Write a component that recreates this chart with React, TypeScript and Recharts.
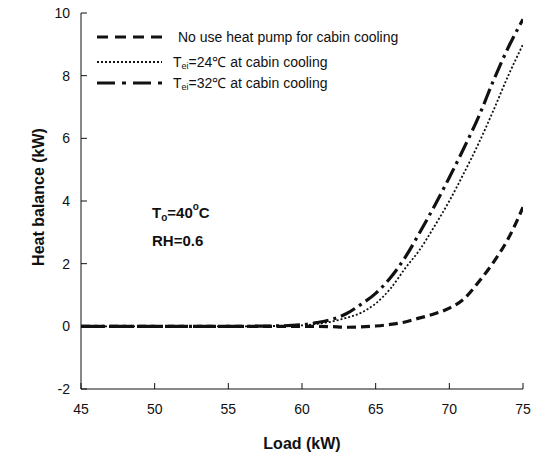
import React from 'react';
import { LineChart, Line, XAxis, YAxis } from 'recharts';

if (typeof document !== 'undefined') {
  document.body.style.margin = '0';
  document.body.style.overflow = 'hidden';
}

const loads = [45, 50, 55, 58, 60, 61, 62, 63, 64, 65, 66, 67, 68, 69, 70, 71, 72, 73, 74, 75];
const noHeatPump = [0, 0, 0, 0, 0, 0, -0.01, -0.03, -0.02, 0.01, 0.06, 0.14, 0.27, 0.4, 0.58, 0.88, 1.42, 2.05, 2.8, 3.8];
const tei24 = [0, 0, 0, 0.01, 0.03, 0.08, 0.15, 0.27, 0.43, 0.73, 1.2, 1.85, 2.45, 3.2, 4.0, 4.9, 5.85, 6.9, 8.0, 9.0];
const tei32 = [0, 0, 0, 0.01, 0.05, 0.12, 0.22, 0.4, 0.7, 1.05, 1.55, 2.2, 3.0, 3.85, 4.75, 5.7, 6.7, 7.85, 8.9, 9.8];
const xTicks = [45, 50, 55, 60, 65, 70, 75];
const yTicks = [-2, 0, 2, 4, 6, 8, 10];

const data = loads.map((l, i) => ({ load: l, a: noHeatPump[i], b: tei24[i], c: tei32[i] }));

const FONT = 'Arial, "Liberation Sans", Helvetica, sans-serif';
const INK = '#111';

const XTitle = (props: any) => {
  const vb = props.viewBox || {};
  return (
    <text x={vb.x + vb.width / 2} y={vb.y + 54} textAnchor="middle" dominantBaseline="central"
      fontFamily={FONT} fontWeight="bold" fontSize={16} fill={INK}>Load (kW)</text>
  );
};

const YTitle = (props: any) => {
  const vb = props.viewBox || {};
  const cx = 38;
  const cy = vb.y + vb.height / 2 - 4;
  return (
    <text x={cx} y={cy} textAnchor="middle" dominantBaseline="central" transform={`rotate(-90 ${cx} ${cy})`}
      fontFamily={FONT} fontWeight="bold" fontSize={16} fill={INK}>Heat balance (kW)</text>
  );
};

const legendRows = [
  { y: 37, dash: '11 7', width: 3.2, pre: 'No use heat pump for cabin cooling', sub: '', post: '', tx: 178 },
  { y: 62, dash: '2 2', width: 2, pre: 'T', sub: 'ei', post: '=24\u2103 at cabin cooling', tx: 173 },
  { y: 83, dash: '18 7 4 7', width: 3.2, pre: 'T', sub: 'ei', post: '=32\u2103 at cabin cooling', tx: 173 },
];

export default function App() {
  return (
    <div style={{ position: 'relative', width: 534, height: 454 }}>
      <LineChart width={534} height={454} data={data} margin={{ top: 13, right: 11, bottom: 15, left: 21 }}>
        <XAxis xAxisId="b" dataKey="load" type="number" domain={[45, 75]} ticks={xTicks} orientation="bottom"
          height={50} tickSize={-6} tickMargin={21} allowDataOverflow
          axisLine={{ stroke: INK }} tickLine={{ stroke: INK }}
          tick={{ fontFamily: FONT, fontSize: 14, fill: INK }} label={<XTitle />} />
        <XAxis xAxisId="t" dataKey="load" type="number" domain={[45, 75]} ticks={xTicks} orientation="top"
          height={0} tickSize={-5} tick={false} axisLine={{ stroke: INK }} tickLine={{ stroke: INK }} />
        <YAxis yAxisId="l" type="number" domain={[-2, 10]} ticks={yTicks} orientation="left" width={60}
          tickSize={-6} tickMargin={17} allowDataOverflow axisLine={{ stroke: INK }} tickLine={{ stroke: INK }}
          tick={{ fontFamily: FONT, fontSize: 14, fill: INK }} label={<YTitle />} />
        <YAxis yAxisId="r" type="number" domain={[-2, 10]} ticks={yTicks} orientation="right" width={0}
          tickSize={-5} tick={false} axisLine={{ stroke: INK }} tickLine={{ stroke: INK }} />
        <Line xAxisId="b" yAxisId="l" type="monotone" dataKey="a" stroke={INK} strokeWidth={3.2}
          strokeDasharray="9 5" dot={false} isAnimationActive={false} />
        <Line xAxisId="b" yAxisId="l" type="monotone" dataKey="b" stroke={INK} strokeWidth={1.8}
          strokeDasharray="2 2" dot={false} isAnimationActive={false} />
        <Line xAxisId="b" yAxisId="l" type="monotone" dataKey="c" stroke={INK} strokeWidth={3.2}
          strokeDasharray="16 5 3 5" dot={false} isAnimationActive={false} />
      </LineChart>
      <svg width={534} height={454} style={{ position: 'absolute', left: 0, top: 0, pointerEvents: 'none' }}>
        {legendRows.map((r, i) => (
          <g key={i}>
            <line x1={97} x2={162} y1={r.y} y2={r.y} stroke={INK} strokeWidth={r.width} strokeDasharray={r.dash} />
            <text x={r.tx} y={r.y} dominantBaseline="central" fontFamily={FONT} fontSize={14} fill={INK}>
              <tspan>{r.pre}</tspan>
              {r.sub ? <tspan dy={4} fontSize={9}>{r.sub}</tspan> : null}
              {r.sub ? <tspan dy={-4}>{r.post}</tspan> : null}
            </text>
          </g>
        ))}
        <text x={152} y={212} dominantBaseline="central" fontFamily={FONT} fontWeight="bold" fontSize={15} fill={INK}>
          <tspan>T</tspan>
          <tspan dy={5} fontSize={10}>o</tspan>
          <tspan dy={-5}>=40</tspan>
          <tspan dy={-6} fontSize={10}>o</tspan>
          <tspan dy={6}>C</tspan>
        </text>
        <text x={152} y={240} dominantBaseline="central" fontFamily={FONT} fontWeight="bold" fontSize={15} fill={INK}>RH=0.6</text>
      </svg>
    </div>
  );
}
